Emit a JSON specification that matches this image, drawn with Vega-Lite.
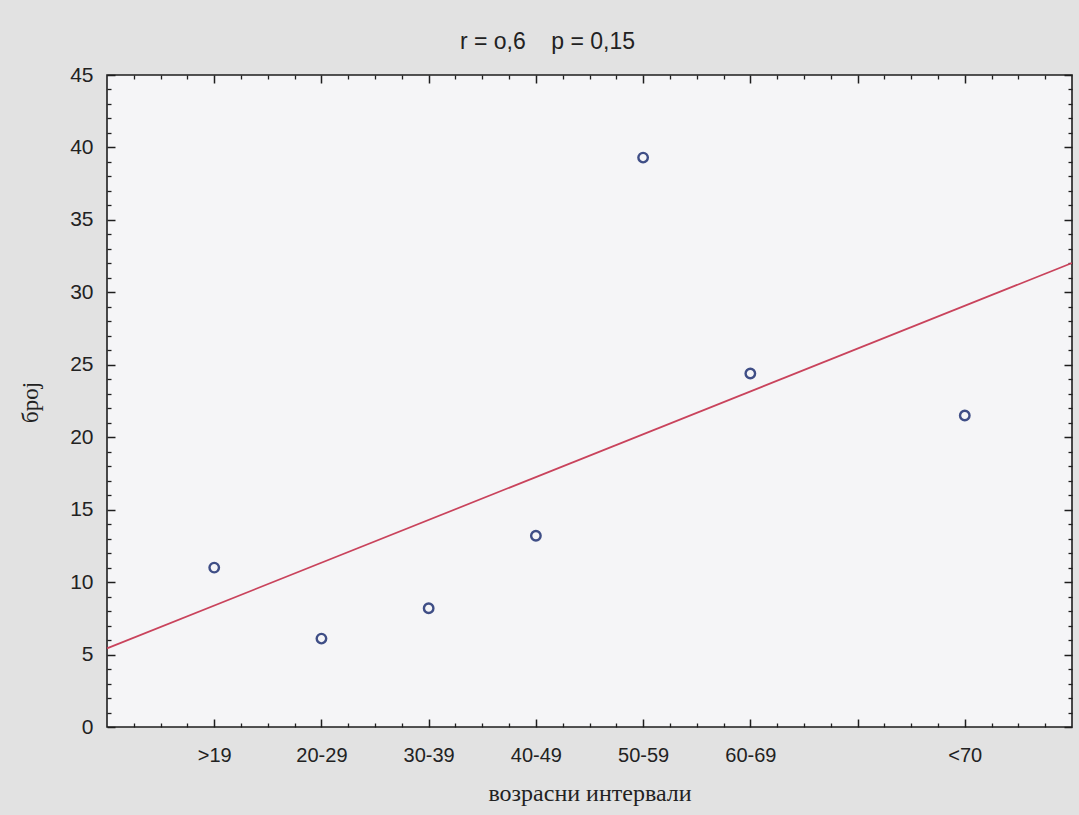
{
  "$schema": "https://vega.github.io/schema/vega-lite/v6.json",
  "width": 965,
  "height": 652,
  "autosize": {"type": "none"},
  "padding": {"left": 107, "top": 75, "right": 7, "bottom": 88},
  "background": "#e2e2e2",
  "config": {
    "view": {"fill": "#f5f5f7", "stroke": "#1e1e1e", "strokeWidth": 1.6},
    "font": "Liberation Sans"
  },
  "title": {
    "text": "r = o,6\u00a0\u00a0\u00a0\u00a0p = 0,15",
    "font": "Liberation Sans",
    "fontSize": 23,
    "fontWeight": "normal",
    "color": "#222222",
    "anchor": "middle",
    "dx": -42,
    "dy": 33,
    "offset": 25,
    "baseline": "alphabetic"
  },
  "data": {
    "values": [
      {"grupa": ">19", "poz": 1, "broj": 11.0},
      {"grupa": "20-29", "poz": 2, "broj": 6.1},
      {"grupa": "30-39", "poz": 3, "broj": 8.2},
      {"grupa": "40-49", "poz": 4, "broj": 13.2},
      {"grupa": "50-59", "poz": 5, "broj": 39.3},
      {"grupa": "60-69", "poz": 6, "broj": 24.4},
      {"grupa": "<70", "poz": 8, "broj": 21.5}
    ]
  },
  "layer": [
    {
      "transform": [{"regression": "broj", "on": "poz", "extent": [0, 9]}],
      "mark": {"type": "line", "color": "#c9435c", "strokeWidth": 1.7},
      "encoding": {
        "x": {
          "field": "poz", "type": "quantitative",
          "scale": {"domain": [0, 9], "nice": false, "zero": false},
          "axis": {
            "orient": "top", "values": [1, 2, 3, 4, 5, 6, 7, 8],
            "tickSize": -8, "tickWidth": 1.5, "tickColor": "#1e1e1e",
            "labels": false, "domain": false, "grid": false, "title": null
          }
        },
        "y": {
          "field": "broj", "type": "quantitative",
          "scale": {"domain": [0, 45], "nice": false, "zero": true},
          "axis": {
            "orient": "right", "values": [0, 5, 10, 15, 20, 25, 30, 35, 40, 45],
            "tickSize": -8, "tickWidth": 1.5, "tickColor": "#1e1e1e",
            "labels": false, "domain": false, "grid": false, "title": null
          }
        }
      }
    },
    {
      "mark": {"type": "point", "filled": false, "size": 90, "strokeWidth": 2.4, "color": "#3f4e86", "opacity": 1},
      "encoding": {
        "x": {
          "field": "poz", "type": "quantitative",
          "scale": {"domain": [0, 9], "nice": false, "zero": false},
          "axis": {
            "orient": "bottom", "values": [1, 2, 3, 4, 5, 6, 7, 8],
            "labelExpr": "datum.value == 1 ? '>19' : datum.value == 2 ? '20-29' : datum.value == 3 ? '30-39' : datum.value == 4 ? '40-49' : datum.value == 5 ? '50-59' : datum.value == 6 ? '60-69' : datum.value == 8 ? '<70' : ''",
            "tickSize": -8, "tickWidth": 1.5, "tickColor": "#1e1e1e",
            "labelPadding": 26, "labelFontSize": 20, "labelColor": "#222222",
            "labelFont": "Liberation Sans", "labelFlush": false, "labelOverlap": false,
            "domain": false, "grid": false,
            "title": "возрасни интервали", "titleFont": "Liberation Serif",
            "titleFontSize": 24, "titleFontWeight": "normal", "titleColor": "#222222",
            "titleY": 73, "titleBaseline": "alphabetic"
          }
        },
        "y": {
          "field": "broj", "type": "quantitative",
          "scale": {"domain": [0, 45], "nice": false, "zero": true},
          "axis": {
            "orient": "left", "values": [0, 5, 10, 15, 20, 25, 30, 35, 40, 45],
            "tickSize": -8, "tickWidth": 1.5, "tickColor": "#1e1e1e",
            "labelPadding": 22, "labelFontSize": 21, "labelColor": "#222222",
            "labelFont": "Liberation Sans", "labelFlush": false, "labelOverlap": false,
            "domain": false, "grid": false,
            "title": "број", "titleFont": "Liberation Serif",
            "titleFontSize": 23, "titleFontWeight": "normal", "titleColor": "#222222",
            "titleAngle": 270, "titleX": -65, "titleY": 327,
            "titleBaseline": "bottom", "titleAlign": "center"
          }
        }
      }
    },
    {
      "mark": {"type": "point", "opacity": 0},
      "encoding": {
        "x": {
          "field": "poz", "type": "quantitative",
          "scale": {"domain": [0, 9], "nice": false, "zero": false},
          "axis": {
            "orient": "bottom",
            "values": [0.25, 0.5, 0.75, 1.25, 1.5, 1.75, 2.25, 2.5, 2.75, 3.25, 3.5, 3.75, 4.25, 4.5, 4.75, 5.25, 5.5, 5.75, 6.25, 6.5, 6.75, 7.25, 7.5, 7.75, 8.25, 8.5, 8.75],
            "tickSize": -4, "tickWidth": 1.3, "tickColor": "#1e1e1e",
            "labels": false, "domain": false, "grid": false, "title": null
          }
        },
        "y": {
          "field": "broj", "type": "quantitative",
          "scale": {"domain": [0, 45], "nice": false, "zero": true},
          "axis": {
            "orient": "left",
            "values": [1, 2, 3, 4, 6, 7, 8, 9, 11, 12, 13, 14, 16, 17, 18, 19, 21, 22, 23, 24, 26, 27, 28, 29, 31, 32, 33, 34, 36, 37, 38, 39, 41, 42, 43, 44],
            "tickSize": -4, "tickWidth": 1.3, "tickColor": "#1e1e1e",
            "labels": false, "domain": false, "grid": false, "title": null
          }
        }
      }
    },
    {
      "mark": {"type": "point", "opacity": 0},
      "encoding": {
        "x": {
          "field": "poz", "type": "quantitative",
          "scale": {"domain": [0, 9], "nice": false, "zero": false},
          "axis": {
            "orient": "top",
            "values": [0.25, 0.5, 0.75, 1.25, 1.5, 1.75, 2.25, 2.5, 2.75, 3.25, 3.5, 3.75, 4.25, 4.5, 4.75, 5.25, 5.5, 5.75, 6.25, 6.5, 6.75, 7.25, 7.5, 7.75, 8.25, 8.5, 8.75],
            "tickSize": -4, "tickWidth": 1.3, "tickColor": "#1e1e1e",
            "labels": false, "domain": false, "grid": false, "title": null
          }
        },
        "y": {
          "field": "broj", "type": "quantitative",
          "scale": {"domain": [0, 45], "nice": false, "zero": true},
          "axis": {
            "orient": "right",
            "values": [1, 2, 3, 4, 6, 7, 8, 9, 11, 12, 13, 14, 16, 17, 18, 19, 21, 22, 23, 24, 26, 27, 28, 29, 31, 32, 33, 34, 36, 37, 38, 39, 41, 42, 43, 44],
            "tickSize": -4, "tickWidth": 1.3, "tickColor": "#1e1e1e",
            "labels": false, "domain": false, "grid": false, "title": null
          }
        }
      }
    }
  ],
  "resolve": {"axis": {"x": "independent", "y": "independent"}}
}
